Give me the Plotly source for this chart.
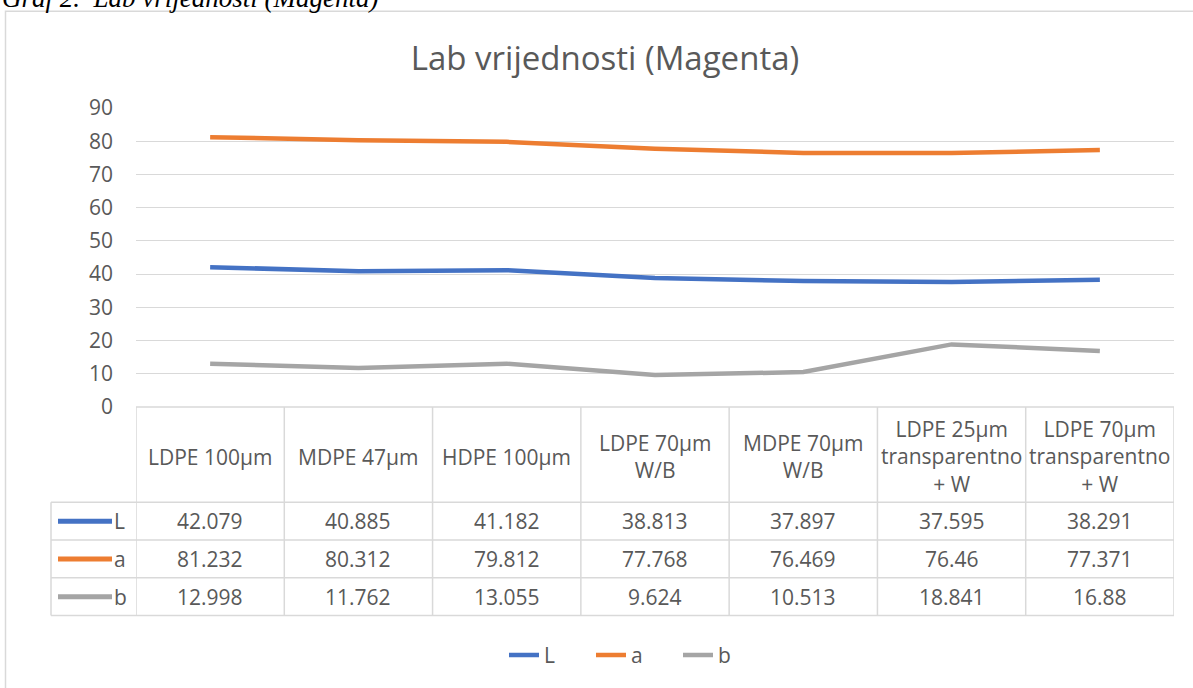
import plotly.graph_objects as go

categories = ["LDPE 100µm", "MDPE 47µm", "HDPE 100µm", "LDPE 70µm W/B",
              "MDPE 70µm W/B", "LDPE 25µm transparentno + W", "LDPE 70µm transparentno + W"]
header_labels = ["LDPE 100µm", "MDPE 47µm", "HDPE 100µm", "LDPE 70µm<br>W/B",
                 "MDPE 70µm<br>W/B", "LDPE 25µm<br>transparentno<br>+ W", "LDPE 70µm<br>transparentno<br>+ W"]
L_values = [42.079, 40.885, 41.182, 38.813, 37.897, 37.595, 38.291]
a_values = [81.232, 80.312, 79.812, 77.768, 76.469, 76.46, 77.371]
b_values = [12.998, 11.762, 13.055, 9.624, 10.513, 18.841, 16.88]
series_names = ["L", "a", "b"]
series_values = [L_values, a_values, b_values]
series_colors = ["#4472C4", "#ED7D31", "#A5A5A5"]
y_ticks = [0, 10, 20, 30, 40, 50, 60, 70, 80, 90]

W, H = 1193, 688
PL, PR, PT, PB = 136, 1174, 108, 409   # plot area in pixels
TXT = "#595959"
GRID = "#D9D9D9"
FONT = "Open Sans"
FS = 21

def xp(px):
    return (px - PL) / (PR - PL)

def yp(py):
    return (PB - py) / (PB - PT)

n = len(categories)
xs = [i + 0.5 for i in range(n)]

fig = go.Figure()
for name, vals, col in zip(series_names, series_values, series_colors):
    fig.add_trace(go.Scatter(x=xs, y=vals, mode="lines", name=name,
                             line=dict(color=col, width=4.5)))

shapes = []
annotations = []

# outer chart border
shapes.append(dict(type="rect", xref="paper", yref="paper",
                   x0=xp(5.5), x1=xp(1200), y0=yp(10.5), y1=yp(700),
                   line=dict(color=GRID, width=1.5), fillcolor="rgba(0,0,0,0)", layer="below"))

# data table geometry (pixels)
row_tops = [409, 505, 543, 581, 619]
key_left = 51
shapes.append(dict(type="line", xref="paper", yref="paper", x0=0, x1=1,
                   y0=yp(row_tops[0]), y1=yp(row_tops[0]), line=dict(color=GRID, width=1.5)))
for r in row_tops[1:]:
    shapes.append(dict(type="line", xref="paper", yref="paper", x0=xp(key_left), x1=1,
                       y0=yp(r), y1=yp(r), line=dict(color=GRID, width=1.5)))
shapes.append(dict(type="line", xref="paper", yref="paper", x0=xp(key_left), x1=xp(key_left),
                   y0=yp(row_tops[1]), y1=yp(row_tops[-1]), line=dict(color=GRID, width=1.5)))
for k in range(n + 1):
    shapes.append(dict(type="line", xref="x", yref="paper", x0=k, x1=k,
                       y0=yp(row_tops[0]), y1=yp(row_tops[-1]), line=dict(color=GRID, width=1.5)))

# header labels
for i, lab in enumerate(header_labels):
    annotations.append(dict(x=xs[i], y=yp((row_tops[0] + row_tops[1]) / 2 + 2), xref="x", yref="paper",
                            text=lab, showarrow=False, xanchor="center", yanchor="middle",
                            font=dict(family=FONT, size=FS, color=TXT)))

# value rows
for r, (name, vals, col) in enumerate(zip(series_names, series_values, series_colors)):
    yc = (row_tops[r + 1] + row_tops[r + 2]) / 2
    shapes.append(dict(type="line", xref="paper", yref="paper", x0=xp(58), x1=xp(112),
                       y0=yp(yc), y1=yp(yc), line=dict(color=col, width=5)))
    annotations.append(dict(x=xp(112), y=yp(yc), xref="paper", yref="paper", text=name,
                            showarrow=False, xanchor="left", yanchor="middle",
                            font=dict(family=FONT, size=FS, color=TXT)))
    for i, v in enumerate(vals):
        annotations.append(dict(x=xs[i], y=yp(yc), xref="x", yref="paper", text=f"{v:g}",
                                showarrow=False, xanchor="center", yanchor="middle",
                                font=dict(family=FONT, size=FS, color=TXT)))

# document caption above the chart (cut off at the top, as in the source)
annotations.append(dict(x=xp(0), y=yp(-3), xref="paper", yref="paper",
                        text="<i>Graf 2.  Lab vrijednosti (Magenta)</i>", showarrow=False,
                        xanchor="left", yanchor="middle",
                        font=dict(family="Liberation Serif", size=27, color="#000000")))

fig.update_layout(
    width=W, height=H,
    margin=dict(l=PL, r=W - PR, t=PT, b=H - PB),
    paper_bgcolor="white", plot_bgcolor="white",
    title=dict(text="Lab vrijednosti (Magenta)", xref="container", x=605 / W, xanchor="center",
               y=1 - 58 / H, yanchor="middle",
               font=dict(family=FONT, size=33, color=TXT)),
    xaxis=dict(range=[0, n], visible=False, fixedrange=True),
    yaxis=dict(range=[0, 90], tickvals=y_ticks, showgrid=True, gridcolor=GRID, gridwidth=1.3,
               zeroline=False, showline=False, ticks="", ticklabelstandoff=22,
               tickfont=dict(family=FONT, size=FS, color=TXT)),
    showlegend=True,
    legend=dict(orientation="h", x=xp(504), xanchor="left", y=yp(659), yanchor="middle",
                font=dict(family=FONT, size=FS, color=TXT), entrywidth=42, entrywidthmode="pixels",
                bgcolor="rgba(0,0,0,0)"),
    shapes=shapes, annotations=annotations,
)

fig.write_html("out.html", config={"displayModeBar": False},
               post_script="document.body.style.margin='0';document.body.style.overflow='hidden';")
